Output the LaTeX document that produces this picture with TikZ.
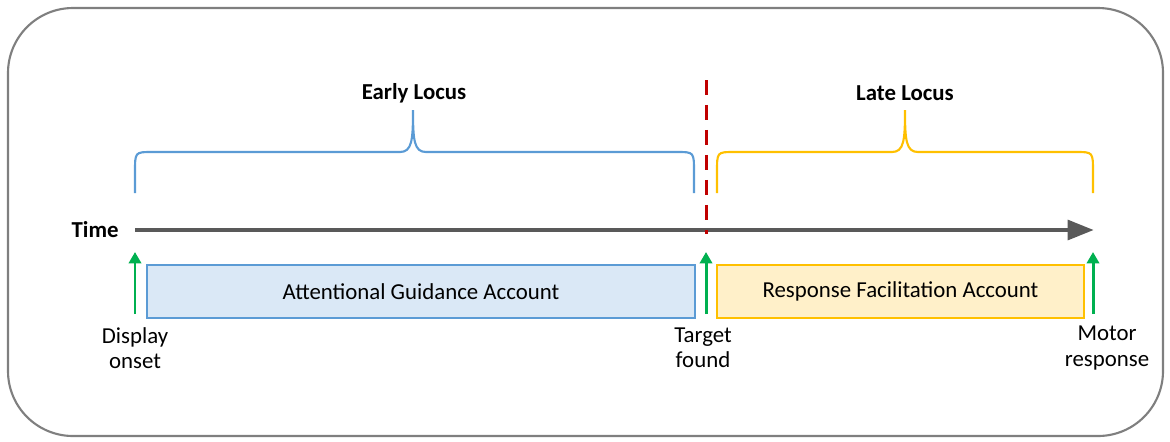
\documentclass[tikz,border=0pt]{standalone}
\usepackage{fontspec}
\setmainfont{Carlito}
\usetikzlibrary{arrows.meta}
\definecolor{bracebl}{HTML}{5B9BD5}
\definecolor{boxbl}{HTML}{DAE8F6}
\definecolor{braceyl}{HTML}{FFC000}
\definecolor{boxyl}{HTML}{FFF0C9}
\definecolor{axisgray}{HTML}{595959}
\definecolor{framegray}{HTML}{7F7F7F}
\definecolor{grn}{HTML}{00B050}
\definecolor{redd}{HTML}{C00000}
\tikzset{
  txt/.style={inner sep=0pt, font=\fontsize{13}{14.4}\selectfont, align=center},
  btxt/.style={txt, font=\fontsize{13}{14.4}\selectfont\bfseries},
  account/.style={draw, line width=1.2pt, inner sep=0pt, anchor=north west,
    minimum height=1.06cm, font=\fontsize{13}{14.4}\selectfont},
  bracepath/.style={line width=1.2pt},
  greenarrow/.style={draw=grn, line width=1.7pt, -{Triangle[length=6.5pt,width=7pt]}},
}
\begin{document}
\begin{tikzpicture}[x=0.02cm,y=-0.02cm]
\useasboundingbox (0,0) rectangle (1170,441);
% frame
\draw[framegray, line width=1.2pt, rounded corners=37pt] (8,8) rectangle (1163,436);
% axis
\node[btxt, anchor=east] (time) at (119,230) {Time};
\coordinate (axs) at (135,230);
\coordinate (axe) at (1094,230);
\draw[axisgray, line width=2.8pt, -{Triangle[length=15pt,width=11pt]}] (axs) -- (axe);
% boxes
\node[account, draw=bracebl, fill=boxbl, minimum width=10.96cm] (ag) at (146,264) {Attentional Guidance Account};
\node[account, draw=braceyl, fill=boxyl, minimum width=7.34cm] (rf) at (716,264) {Response Facilitation Account};
% braces
\coordinate (b1l) at (135,193);
\coordinate (b1t) at (413,110);
\coordinate (b1r) at (694,193);
\draw[bracebl, bracepath] (b1l) -- (135,172) .. controls (135,152) .. (152,152) -- (400,152)
  .. controls (412,152) and (413,140) .. (b1t)
  .. controls (413,140) and (414,152) .. (426,152) -- (677,152)
  .. controls (694,152) .. (694,172) -- (b1r);
\coordinate (b2l) at (717,193);
\coordinate (b2t) at (905,110);
\coordinate (b2r) at (1093,193);
\draw[braceyl, bracepath] (b2l) -- (717,172) .. controls (717,152) .. (734,152) -- (892,152)
  .. controls (904,152) and (905,140) .. (b2t)
  .. controls (905,140) and (906,152) .. (918,152) -- (1076,152)
  .. controls (1093,152) .. (1093,172) -- (b2r);
\node[btxt] (early) at (414,93) {Early Locus};
\node[btxt] (late) at (905,93) {Late Locus};
% red dashed
\coordinate (rd1) at (706,80);
\coordinate (rd2) at (706,234);
\draw[redd, line width=1.7pt, dash pattern=on 8.5pt off 5.7pt] (rd1) -- (rd2);
% green arrows
\coordinate (g1b) at (135,314); \coordinate (g1t) at (135,252);
\coordinate (g2b) at (706,314); \coordinate (g2t) at (706,252);
\coordinate (g3b) at (1093,314); \coordinate (g3t) at (1093,252);
\draw[greenarrow] (g1b) -- (g1t);
\draw[greenarrow] (g2b) -- (g2t);
\draw[greenarrow] (g3b) -- (g3t);
% labels
\node[txt] (disp) at (135,348) {Display\\onset};
\node[txt] (targ) at (703,348) {Target\\found};
\node[txt] (motor) at (1107,348) {Motor\\response};
\end{tikzpicture}
\end{document}
